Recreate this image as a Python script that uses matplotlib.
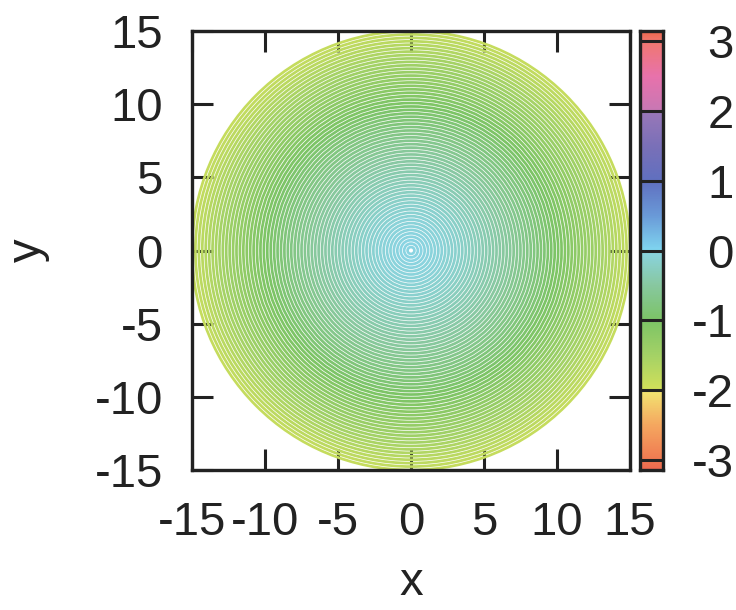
import numpy as np
import matplotlib
matplotlib.use("Agg")
import matplotlib.pyplot as plt
from matplotlib.colors import LinearSegmentedColormap, Normalize
from matplotlib.patches import Circle

plt.rcParams['font.family'] = ['Liberation Sans', 'DejaVu Sans']

# ---- data ----
r_max = 15.0
n_rings = 64
phase_edge = -1.85        # phase value at the outer ring (r = 15)
phase_power = 1.5         # radial shape of the phase
tick_vals = [-15, -10, -5, 0, 5, 10, 15]
cb_ticks = [-3, -2, -1, 0, 1, 2, 3]
cb_min, cb_max = -np.pi, np.pi

# palette anchors (value, colour)
pal_vals = [-np.pi, -3.0, -2.5, -2.01, -2.0, -1.5, -1.0, -0.5, -0.01, 0.0, 0.5,
            1.0, 1.5, 2.0, 2.01, 2.5, 3.0, np.pi]
pal_cols = ['#ee6a50', '#f07a52', '#f5a860', '#f2e672', '#d2e05a', '#a4d266',
            '#7cc466', '#88c8a0', '#8ad4e2', '#80d6f0', '#6a9ad8', '#6070c0',
            '#7a70b8', '#9a78b8', '#c878b4', '#e872ac', '#f07870', '#ee6a50']

cmap = LinearSegmentedColormap.from_list(
    'phase', [((v - cb_min) / (cb_max - cb_min), c) for v, c in zip(pal_vals, pal_cols)])
norm = Normalize(cb_min, cb_max)

fig = plt.figure(figsize=(7.36, 6.10), dpi=100)
ax = fig.add_axes([192/736, 1-470/610, 438/736, 439/610])
cax = fig.add_axes([640/736, 1-470/610, 23/736, 439/610])

radii = np.linspace(0, r_max, n_rings + 1)[1:]
phases = phase_edge * (radii / r_max) ** phase_power
for r, p in zip(radii, phases):
    ax.add_patch(Circle((0, 0), r, fill=False, edgecolor=cmap(norm(p)),
                        linewidth=1.95, zorder=2))

ax.set_xlim(-15, 15)
ax.set_ylim(-15, 15)
ax.set_axisbelow(True)
ax.set_xticks(tick_vals)
ax.set_yticks(tick_vals)
ax.set_xticklabels([str(t) for t in tick_vals])
ax.set_yticklabels([str(t) for t in tick_vals])
ax.tick_params(direction='in', length=15, width=2.2, labelsize=34,
               top=True, right=True, color='#222222', labelcolor='#222222')
ax.tick_params(axis='x', pad=22)
ax.tick_params(axis='y', pad=21)
for s in ax.spines.values():
    s.set_linewidth(2.4)
    s.set_color('#222222')
    s.set_zorder(3)
ax.set_xlabel('x', fontsize=34, color='#222222', labelpad=12)
ax.set_ylabel('y', fontsize=34, color='#222222', labelpad=32)

# colour box
grad = np.linspace(cb_min, cb_max, 1024)[:, None]
cax.imshow(grad, extent=[0, 1, cb_min, cb_max], origin='lower', aspect='auto',
           cmap=cmap, norm=norm)
cax.set_xlim(0, 1)
cax.set_ylim(cb_min, cb_max)
for t in cb_ticks:
    cax.axhline(t, color='#222222', linewidth=2.2)
cax.set_xticks([])
cax.yaxis.tick_right()
cax.set_yticks(cb_ticks)
cax.set_yticklabels([str(t) for t in cb_ticks])
cax.tick_params(axis='y', length=0, labelsize=34, pad=51, labelcolor='#222222')
for lab in cax.get_yticklabels():
    lab.set_horizontalalignment('right')
for s in cax.spines.values():
    s.set_linewidth(2.4)
    s.set_color('#222222')

fig.savefig('out.png', dpi=100)
